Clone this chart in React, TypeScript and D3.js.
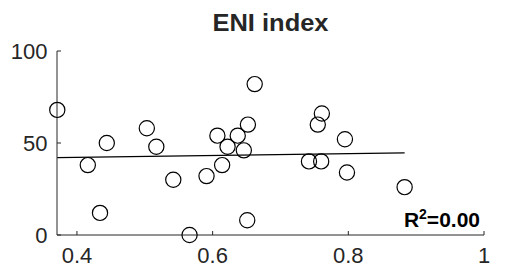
import React from "react";
import * as d3 from "d3";

const title = "ENI index";
const xValues = [0.371, 0.416, 0.434, 0.444, 0.503, 0.517, 0.542, 0.566, 0.591, 0.607, 0.614, 0.622, 0.637, 0.646, 0.652, 0.651, 0.662, 0.742, 0.755, 0.761, 0.760, 0.795, 0.798, 0.883];
const yValues = [68, 38, 12, 50, 58, 48, 30, 0, 32, 54, 38, 48, 54, 46, 60, 8, 82, 40, 60, 66, 40, 52, 34, 26];
const fitX = [0.371, 0.883];
const fitY = [42.0, 44.6];
const xTicks = [0.4, 0.6, 0.8, 1];
const yTicks = [0, 50, 100];
const rSquaredLabel = "0.00";

export default function App() {
  const W = 505, H = 268;
  const left = 57, right = 484, top = 51, bottom = 235;
  const x = d3.scaleLinear().domain([0.3706, 1]).range([left, right]);
  const y = d3.scaleLinear().domain([0, 100]).range([bottom, top]);
  const font = "'Liberation Sans', Arial, sans-serif";
  const line = d3.line<number>().x((d, i) => x(fitX[i])).y((d) => y(d));
  const tick = 4;
  return (
    <svg width={W} height={H} style={{ position: "absolute", left: 0, top: 0 }}>
      <rect width={W} height={H} fill="#fff" />
      <text x={(left + right) / 2} y={31} textAnchor="middle" fontFamily={font} fontWeight="bold" fontSize={24} textLength={116} lengthAdjust="spacingAndGlyphs" fill="#262626">{title}</text>
      <line x1={left} y1={top} x2={left} y2={bottom} stroke="#262626" strokeWidth={1} />
      <line x1={left} y1={bottom} x2={right} y2={bottom} stroke="#262626" strokeWidth={1} />
      {yTicks.map((t) => (
        <g key={"y" + t}>
          <line x1={left} x2={left + tick} y1={y(t)} y2={y(t)} stroke="#262626" />
          <text x={left - 9.5} y={y(t) + 8} textAnchor="end" fontFamily={font} fontSize={22} fill="#262626">{t}</text>
        </g>
      ))}
      {xTicks.map((t) => (
        <g key={"x" + t}>
          <line x1={x(t)} x2={x(t)} y1={bottom} y2={bottom - tick} stroke="#262626" />
          <text x={x(t)} y={263} textAnchor="middle" fontFamily={font} fontSize={22} fill="#262626">{t}</text>
        </g>
      ))}
      <path d={line(fitY) || ""} fill="none" stroke="#000" strokeWidth={1.3} />
      {xValues.map((xv, i) => (
        <circle key={i} cx={x(xv)} cy={y(yValues[i])} r={7.6} fill="none" stroke="#000" strokeWidth={1.2} />
      ))}
      <text x={480} y={227} textAnchor="end" fontFamily={font} fontWeight="bold" fontSize={21} fill="#000">
        R<tspan dy={-8} fontSize={14}>2</tspan><tspan dy={8}>={rSquaredLabel}</tspan>
      </text>
    </svg>
  );
}
